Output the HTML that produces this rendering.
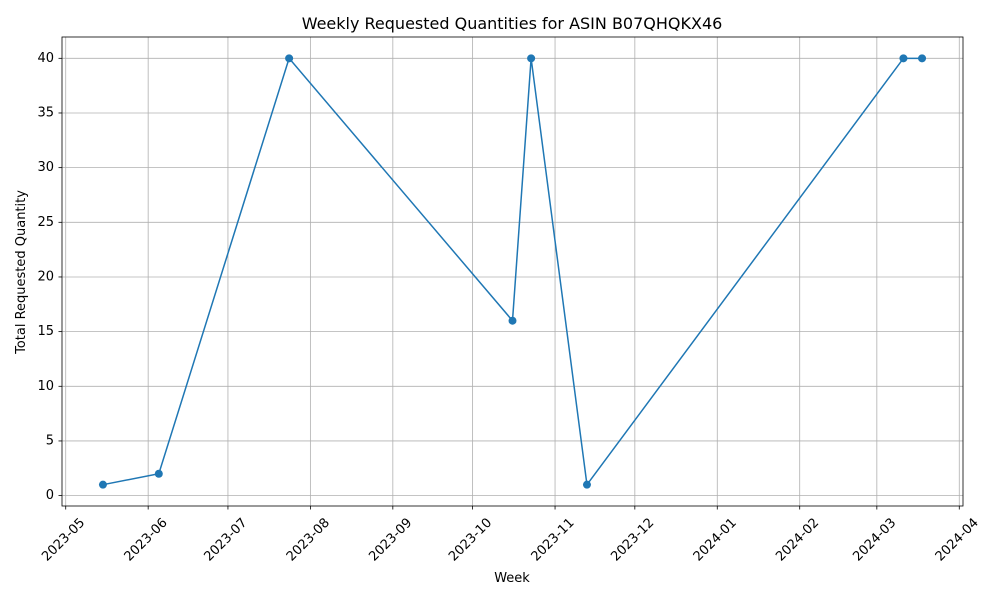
<!DOCTYPE html>
<html><head><meta charset="utf-8"><style>
body{margin:0;background:#fff;}
svg text{font-family:"DejaVu Sans","Liberation Sans",sans-serif;fill:#000;}
</style></head><body>
<svg id="chart" width="1000" height="600" viewBox="0 0 1000 600" xmlns="http://www.w3.org/2000/svg">
<rect width="1000" height="600" fill="#fff"/>
<g id="grid"></g>
<g id="axes"></g>
<g id="series"></g>
<rect x="62" y="37" width="901" height="469" fill="none" stroke="#000" stroke-width="0.8"/>
<text x="512" y="29" font-size="16" text-anchor="middle">Weekly Requested Quantities for ASIN B07QHQKX46</text>
<text x="512" y="582" font-size="13" text-anchor="middle">Week</text>
<text transform="translate(25,272) rotate(-90)" font-size="13" text-anchor="middle">Total Requested Quantity</text>
</svg>
<script>
const weeks = ["2023-05-15","2023-06-05","2023-07-24","2023-10-16","2023-10-23","2023-11-13","2024-03-11","2024-03-18"];
const quantities = [1,2,40,16,40,1,40,40];
const xTickLabels = ["2023-05","2023-06","2023-07","2023-08","2023-09","2023-10","2023-11","2023-12","2024-01","2024-02","2024-03","2024-04"];
const yTicks = [0,5,10,15,20,25,30,35,40];

const NS="http://www.w3.org/2000/svg";
const L=62,R=963,T=37,B=506;
const day=86400000;
const t=s=>Date.parse(s+"T00:00:00Z")/day;
const tx=weeks.map(t);
const xmin0=Math.min(...tx),xmax0=Math.max(...tx),xp=(xmax0-xmin0)*0.05;
const xmin=xmin0-xp,xmax=xmax0+xp;
const ymin0=Math.min(...quantities),ymax0=Math.max(...quantities),yp=(ymax0-ymin0)*0.05;
const ymin=ymin0-yp,ymax=ymax0+yp;
const X=v=>L+(v-xmin)/(xmax-xmin)*(R-L);
const Y=v=>B-(v-ymin)/(ymax-ymin)*(B-T);
function mk(tag,attrs,parent){const e=document.createElementNS(NS,tag);for(const k in attrs)e.setAttribute(k,attrs[k]);parent.appendChild(e);return e;}
const grid=document.getElementById('grid'),axes=document.getElementById('axes'),series=document.getElementById('series');

xTickLabels.forEach(lbl=>{
  const x=X(t(lbl+"-01"));
  const g=mk('line',{x1:x,x2:x,y1:T,y2:B,stroke:'#b0b0b0','stroke-width':0.8},grid);
  
  
  const tk=mk('line',{x1:x,x2:x,y1:B,y2:B+3.5,stroke:'#000','stroke-width':0.8},axes);
  
  
  const tt=mk('text',{'font-size':13,'text-anchor':'middle','dominant-baseline':'central',transform:`translate(${x-2},${B+34}) rotate(-45)`},axes);
  tt.textContent=lbl;
  
  
});
yTicks.forEach(v=>{
  const y=Y(v);
  const g=mk('line',{x1:L,x2:R,y1:y,y2:y,stroke:'#b0b0b0','stroke-width':0.8},grid);
  
  
  const tk=mk('line',{x1:L-3.5,x2:L,y1:y,y2:y,stroke:'#000','stroke-width':0.8},axes);
  
  
  const tt=mk('text',{x:L-8,y:y,'font-size':13,'text-anchor':'end','dominant-baseline':'central'},axes);
  tt.textContent=v;
  
  
});
const pts=tx.map((d,i)=>X(d)+","+Y(quantities[i])).join(" ");
const line=mk('polyline',{points:pts,fill:'none',stroke:'#1f77b4','stroke-width':1.5},series);


tx.forEach((d,i)=>{
  const c=mk('circle',{cx:X(d),cy:Y(quantities[i]),r:4,fill:'#1f77b4'},series);
  
  
});
</script>
</body></html>
